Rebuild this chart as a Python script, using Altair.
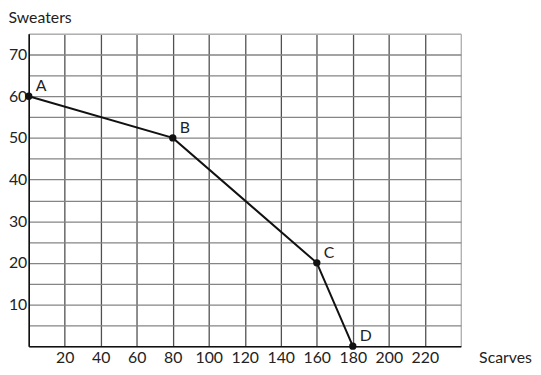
import altair as alt
import pandas as pd

labels = ["A", "B", "C", "D"]
scarves = [0, 80, 160, 180]
sweaters = [60, 50, 20, 0]

x_grid = list(range(0, 241, 20))
y_grid = list(range(0, 76, 5))

df = pd.DataFrame({"label": labels, "scarves": scarves, "sweaters": sweaters})

FONT = "Lato"
FS = 16

xs = alt.Scale(domain=[0, 240], nice=False, zero=False)
ys = alt.Scale(domain=[0, 75], nice=False, zero=False)

x_axis = alt.Axis(
    values=x_grid,
    tickCount=13,
    labelExpr="datum.value == 0 || datum.value == 240 ? '' : datum.label",
    labelOverlap=False,
    grid=True,
    gridColor={"condition": {"test": "datum.value == 240", "value": "#b0b0b0"}, "value": "#505050"},
    gridWidth=1.3,
    ticks=False,
    domainColor="#111111",
    domainWidth=1.5,
    labelFont=FONT,
    labelFontSize=FS,
    labelColor="#222222",
    labelPadding=4,
    labelBaseline="top",
    title="Scarves",
    titleFont=FONT,
    titleFontSize=FS,
    titleFontWeight="normal",
    titleColor="#222222",
    titleAlign="left",
    titleBaseline="alphabetic",
    titleX=455,
    titleY=16,
)

y_axis = alt.Axis(
    values=y_grid,
    tickCount=16,
    labelExpr="datum.value % 10 == 0 && datum.value > 0 && datum.value < 75 ? datum.label : ''",
    labelOverlap=False,
    grid=True,
    gridColor={"condition": {"test": "datum.value == 75", "value": "#b0b0b0"}, "value": "#858585"},
    gridWidth=1.3,
    ticks=False,
    domainColor="#111111",
    domainWidth=1.5,
    labelFont=FONT,
    labelFontSize=FS,
    labelColor="#222222",
    labelPadding=2,
    title="Sweaters",
    titleFont=FONT,
    titleFontSize=FS,
    titleFontWeight="normal",
    titleColor="#222222",
    titleAngle=0,
    titleAlign="left",
    titleBaseline="alphabetic",
    titleX=-21,
    titleY=-11,
)

X = alt.X("scarves:Q", scale=xs, axis=x_axis)
Y = alt.Y("sweaters:Q", scale=ys, axis=y_axis)

base = alt.Chart(df)

line = base.mark_line(color="#111111", strokeWidth=2).encode(x=X, y=Y, order="scarves:Q")

pts = base.mark_circle(color="#111111", size=55, opacity=1).encode(x=X, y=Y)

txt = base.mark_text(
    align="left", baseline="alphabetic", dx=7, dy=-5, font=FONT, fontSize=FS, color="#222222"
).encode(x=X, y=Y, text="label:N")

chart = (
    alt.layer(line, pts, txt)
    .properties(
        width=437,
        height=316,
        autosize=alt.AutoSizeParams(type="none"),
        padding={"left": 21, "top": 24, "right": 73, "bottom": 19},
    )
    .configure_view(stroke=None)
    .configure(background="white")
)

chart.save("out.html", embed_options={"renderer": "svg", "actions": False})
